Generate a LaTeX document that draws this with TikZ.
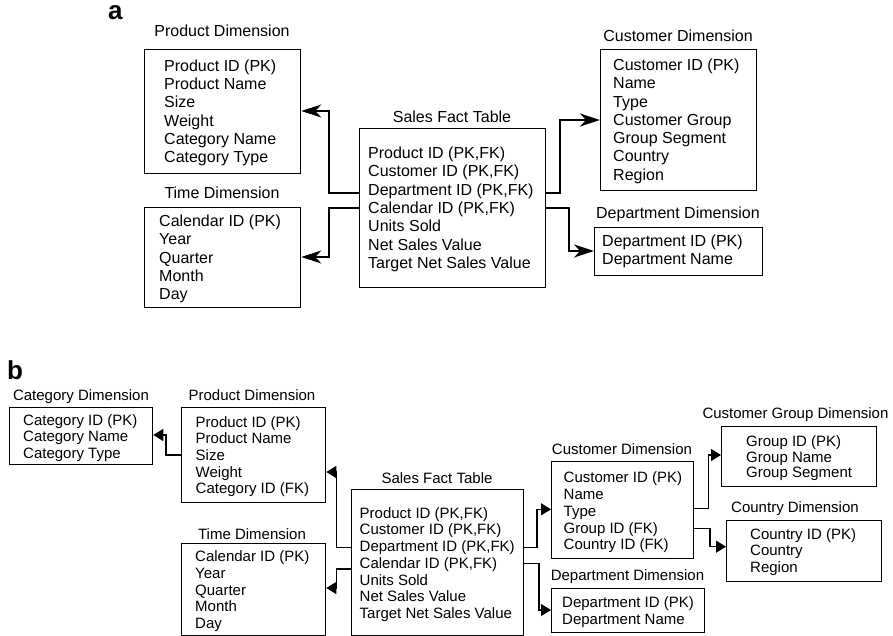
\documentclass[tikz,border=0pt]{standalone}
\usepackage{fontspec}
\setmainfont{Liberation Sans}
\usetikzlibrary{arrows.meta}
\begin{document}
\begin{tikzpicture}[x=1pt,y=-1pt,
  tbl/.style={draw, line width=1.3pt, inner sep=0pt, anchor=north west},
  panel/.style={anchor=base west, inner sep=0pt, font=\fontsize{26}{26}\selectfont\bfseries},
  ttlA/.style={anchor=base, inner sep=0pt, font=\fontsize{16}{18}\selectfont},
  bodyA/.style={anchor=base west, inner sep=0pt, align=left, font=\fontsize{16}{18.3}\selectfont},
  ttlB/.style={anchor=base, inner sep=0pt, font=\fontsize{15}{17}\selectfont},
  bodyB/.style={anchor=base west, inner sep=0pt, align=left, font=\fontsize{15}{#1}\selectfont},
  bodyB/.default=16.7,
  linkA/.style={line width=1.2pt, -{Stealth[length=20pt,width=13pt,inset=6pt]}},
  linkB/.style={line width=1.2pt, -{Triangle[length=10pt,width=12pt]}}
]
\useasboundingbox (0,0) rectangle (893,636);

% Body texts are placed by the baseline of their last line.

% ---------------- panel a: star schema ----------------
\node[panel] (la) at (108,20) {a};

\node[ttlA] (pat) at (222,36.5) {Product Dimension};
\node[tbl, minimum width=156, minimum height=124] (pa) at (144,49) {};
\node[bodyA] (pab) at (164,162.9) {Product ID (PK)\\Product Name\\Size\\Weight\\Category Name\\Category Type};

\node[ttlA] (tat) at (222,198.5) {Time Dimension};
\node[tbl, minimum width=156, minimum height=100] (ta) at (144,207) {};
\node[bodyA] (tab) at (159,299.7) {Calendar ID (PK)\\Year\\Quarter\\Month\\Day};

\node[ttlA] (sat) at (452,122.5) {Sales Fact Table};
\node[tbl, minimum width=186, minimum height=159] (sa) at (359,128) {};
\node[bodyA] (sab) at (368,268.3) {Product ID (PK,FK)\\Customer ID (PK,FK)\\Department ID (PK,FK)\\Calendar ID (PK,FK)\\Units Sold\\Net Sales Value\\Target Net Sales Value};

\node[ttlA] (cat) at (678,41.5) {Customer Dimension};
\node[tbl, minimum width=156, minimum height=141] (ca) at (600,49) {};
\node[bodyA] (cab) at (613,180.3) {Customer ID (PK)\\Name\\Type\\Customer Group\\Group Segment\\Country\\Region};

\node[ttlA] (dat) at (678,218.5) {Department Dimension};
\node[tbl, minimum width=168, minimum height=48] (da) at (594,227) {};
\node[bodyA] (dab) at (602,264.8) {Department ID (PK)\\Department Name};

\draw[linkA] (sa.west |- 0,193) -- (329,193) |- (pa.east |- 0,111);
\draw[linkA] (sa.west |- 0,208) -- (329,208) |- (ta.east |- 0,257);
\draw[linkA] (sa.east |- 0,193) -- (560,193) |- (ca.west |- 0,120);
\draw[linkA] (sa.east |- 0,208) -- (569,208) |- (da.west |- 0,251);

% ---------------- panel b: snowflake schema ----------------
\node[panel] (lb) at (7,379) {b};

\node[ttlB] (cbt) at (81,400.3) {Category Dimension};
\node[tbl, minimum width=143, minimum height=56.5] (cb) at (9,407) {};
\node[bodyB=16.3] (cbb) at (23,458) {Category ID (PK)\\Category Name\\Category Type};

\node[ttlB] (pbt) at (252,400.3) {Product Dimension};
\node[tbl, minimum width=144, minimum height=95] (pb) at (181,407) {};
\node[bodyB=16.6] (pbb) at (195.5,493.7) {Product ID (PK)\\Product Name\\Size\\Weight\\Category ID (FK)};

\node[ttlB] (tbt) at (252,539.5) {Time Dimension};
\node[tbl, minimum width=144, minimum height=91.5] (tb) at (181,543) {};
\node[bodyB] (tbb) at (195,628.4) {Calendar ID (PK)\\Year\\Quarter\\Month\\Day};

\node[ttlB] (sbt) at (437,483.7) {Sales Fact Table};
\node[tbl, minimum width=172, minimum height=146] (sb) at (351,488.5) {};
\node[bodyB] (sbb) at (359.5,618.4) {Product ID (PK,FK)\\Customer ID (PK,FK)\\Department ID (PK,FK)\\Calendar ID (PK,FK)\\Units Sold\\Net Sales Value\\Target Net Sales Value};

\node[ttlB] (cubt) at (622,454.4) {Customer Dimension};
\node[tbl, minimum width=142, minimum height=96.7] (cub) at (551,461) {};
\node[bodyB] (cubb) at (563.5,549.7) {Customer ID (PK)\\Name\\Type\\Group ID (FK)\\Country ID (FK)};

\node[ttlB] (dbt) at (627.5,580.4) {Department Dimension};
\node[tbl, minimum width=153, minimum height=44] (db) at (551,587.7) {};
\node[bodyB] (dbb) at (562,624.4) {Department ID (PK)\\Department Name};

\node[ttlB] (gbt) at (795.5,418.7) {Customer Group Dimension};
\node[tbl, minimum width=155, minimum height=60] (gb) at (721,426) {};
\node[bodyB=15.7] (gbb) at (746,477.7) {Group ID (PK)\\Group Name\\Group Segment};

\node[ttlB] (kbt) at (795,512.7) {Country Dimension};
\node[tbl, minimum width=154.7, minimum height=60.7] (kb) at (726,520) {};
\node[bodyB=16.2] (kbb) at (750,572.1) {Country ID (PK)\\Country\\Region};

\draw[linkB] (pb.west |- 0,455) -- (166,455) |- (cb.east |- 0,435);
\draw[linkB] (sb.west |- 0,547.7) -- (336.7,547.7) |- (pb.east |- 0,472);
\draw[linkB] (sb.west |- 0,569) -- (336.7,569) |- (tb.east |- 0,588);
\draw[linkB] (sb.east |- 0,547.7) -- (537,547.7) |- (cub.west |- 0,509.3);
\draw[linkB] (sb.east |- 0,563.3) -- (539,563.3) |- (db.west |- 0,610);
\draw[linkB] (cub.east |- 0,508.3) -- (708.3,508.3) |- (gb.west |- 0,455);
\draw[linkB] (cub.east |- 0,528.3) -- (710,528.3) |- (kb.west |- 0,546.7);
\end{tikzpicture}
\end{document}
